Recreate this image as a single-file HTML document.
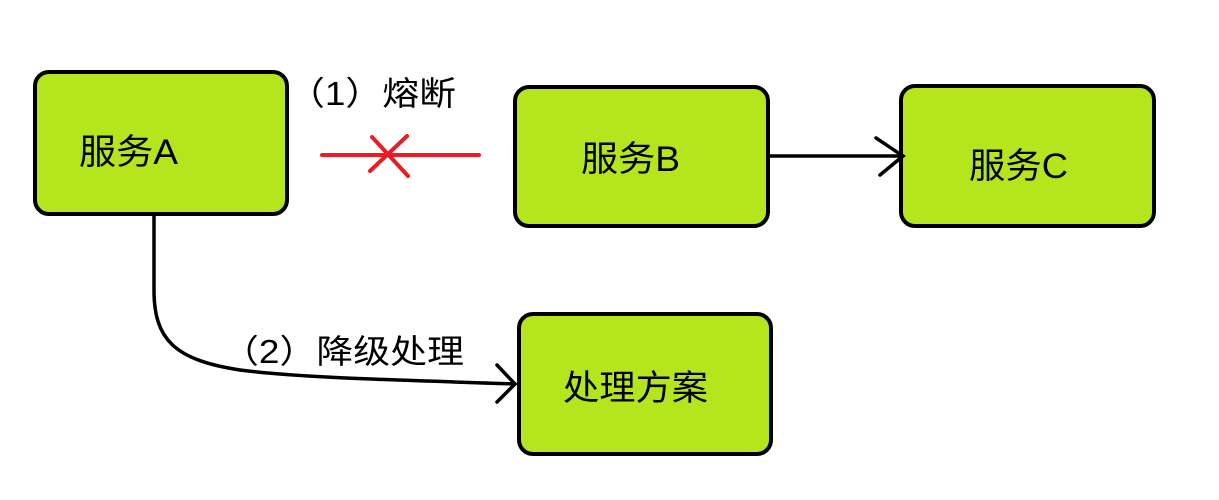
<!DOCTYPE html>
<html><head><meta charset="utf-8"><style>
html,body{margin:0;padding:0;background:#fff;}
svg{display:block}
text{font-family:"Liberation Sans","Noto Sans CJK SC",sans-serif;fill:#000;}
</style></head><body>
<svg width="1219" height="500" viewBox="0 0 1219 500">
<g fill="#b5e61d" stroke="#000" stroke-width="4">
<rect x="35" y="72" width="252" height="142" rx="14"/>
<rect x="515" y="87" width="253" height="139" rx="14"/>
<rect x="901" y="86" width="253" height="140" rx="14"/>
<rect x="519" y="314" width="252" height="140" rx="14"/>
</g>
<g font-size="35">
<text x="79" y="164" textLength="99" lengthAdjust="spacingAndGlyphs">服务A</text>
<text x="581" y="171" textLength="99" lengthAdjust="spacingAndGlyphs">服务B</text>
<text x="969" y="178" textLength="99" lengthAdjust="spacingAndGlyphs">服务C</text>
<text x="563" y="400" textLength="145" lengthAdjust="spacingAndGlyphs">处理方案</text>
</g>
<g font-size="33">
<text x="288" y="105" textLength="168" lengthAdjust="spacingAndGlyphs">（1）熔断</text>
<text x="222" y="363" textLength="242" lengthAdjust="spacingAndGlyphs">（2）降级处理</text>
</g>
<g stroke="#ed1c24" stroke-width="4" stroke-linecap="round" fill="none">
<line x1="322" y1="155" x2="479" y2="155"/>
<line x1="372" y1="137" x2="408" y2="176"/>
<line x1="407" y1="136" x2="370" y2="171"/>
</g>
<g stroke="#000" stroke-width="3.5" fill="none" stroke-linecap="round">
<line x1="770" y1="156" x2="903" y2="156"/>
<polyline points="876,138 903,156 880,175"/>
<path d="M154 216 L154 290 C154 340 175 360 240 370 C300 378 400 380 515 384"/>
<polyline points="497,365 515,384 497,402"/>
</g>
</svg>
</body></html>
